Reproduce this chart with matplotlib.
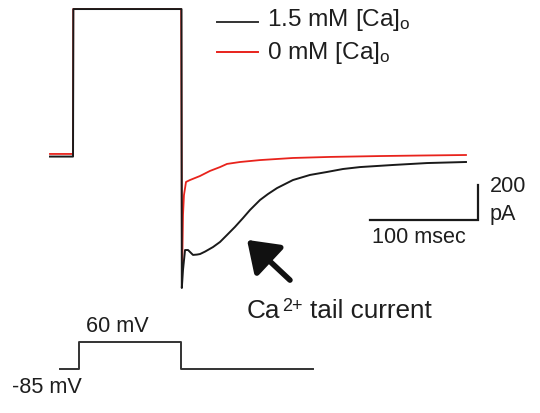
import matplotlib
matplotlib.use("Agg")
import matplotlib.pyplot as plt

plt.rcParams["font.family"] = ["Liberation Sans", "DejaVu Sans"]
plt.rcParams["mathtext.fontset"] = "custom"
plt.rcParams["mathtext.rm"] = "Liberation Sans"
plt.rcParams["mathtext.it"] = "Liberation Sans"

W, H = 540, 413

# ── Current traces (time in ms, current in pA) ──────────────────
t_ca = [0, 21.4, 21.7, 122.2, 122.5, 123.6, 125.5, 128.3, 130.1, 132.9, 136.6,
        139.4, 144.1, 151.5, 158.0, 164.5, 171.9, 179.4, 185.9, 195.2, 202.6,
        211.0, 218.4, 225.8, 241.6, 257.4, 272.3, 288.1, 318.8, 350.4, 386.6]
i_ca = [-9, -9, 834, 834, -760, -657, -543, -543, -554, -571, -569,
        -566, -552, -526, -497, -457, -411, -360, -314, -257, -223,
        -189, -166, -143, -114, -97, -80, -69, -57, -46, -40]

t_0ca = [0, 21.4, 21.6, 121.9, 122.7, 123.6, 124.5, 126.4, 130.1, 139.4, 148.7,
         158.0, 164.5, 176.6, 195.2, 225.8, 260.2, 306.7, 343.9, 386.6]
i_0ca = [6, 6, 834, 834, -697, -343, -229, -154, -143, -120, -91,
         -69, -51, -40, -29, -17, -11, -6, -3, 0]

# ── Voltage protocol (ms, mV) ───────────────────────────────────
t_v = [9.3, 27.0, 27.0, 121.7, 121.7, 244.4]
v_v = [-85, -85, 60, 60, -85, -85]

# pixel geometry
X0, PX_MS = 50, 1.076          # t = 0 at x=50 px
Y0, PX_PA = 155, 0.175         # 0 pA at y=155 px
YV, PX_MV = 369, 0.188         # -85 mV at y=369 px

def fx(x):
    return x / W

def fy(y):
    return 1 - y / H

fig = plt.figure(figsize=(W / 100, H / 100), dpi=100)
fig.patch.set_facecolor("white")

ax = fig.add_axes([0, 0, 1, 1])
ax.set_xlim(-X0 / PX_MS, (W - X0) / PX_MS)
ax.set_ylim(-(H - Y0) / PX_PA, Y0 / PX_PA)
ax.axis("off")

axv = fig.add_axes([0, 0, 1, 1], sharex=ax)
axv.set_ylim(-85 - (H - YV) / PX_MV, -85 + YV / PX_MV)
axv.axis("off")

ax.plot(t_0ca, i_0ca, color="#e8231c", lw=1.3, zorder=2)
ax.plot(t_ca, i_ca, color="#1a1a1a", lw=1.4, zorder=3)
axv.plot(t_v, v_v, color="#333333", lw=1.4)

# scale bar: 100 ms x 200 pA
sx1 = (478 - X0) / PX_MS
sy0 = (Y0 - 220) / PX_PA
ax.plot([sx1 - 100, sx1, sx1], [sy0, sy0, sy0 + 200], color="#1a1a1a",
        lw=1.6, solid_joinstyle="miter")

TXT = "#1e1e1e"
# legend
fig.add_artist(plt.Line2D([fx(217), fx(258)], [fy(22), fy(22)], color="#333333", lw=1.4))
fig.add_artist(plt.Line2D([fx(217), fx(258)], [fy(52), fy(52)], color="#e8231c", lw=1.4))
fig.text(fx(267), fy(26), r"1.5 mM [Ca]$_\mathregular{o}$", fontsize=17.6,
         color=TXT, va="baseline")
fig.text(fx(267), fy(59), r"0 mM [Ca]$_\mathregular{o}$", fontsize=17.6,
         color=TXT, va="baseline")

# scale bar labels
fig.text(fx(372), fy(243), "100 msec", fontsize=15.6, color=TXT, va="baseline")
fig.text(fx(490), fy(192), "200", fontsize=15.6, color=TXT, va="baseline")
fig.text(fx(490), fy(220), "pA", fontsize=15.6, color=TXT, va="baseline")

# arrow + label
fig.add_artist(matplotlib.patches.FancyArrowPatch(
    (fx(292), fy(282)), (fx(245), fy(238)), transform=fig.transFigure,
    arrowstyle="-|>,head_length=0.6,head_width=0.42", mutation_scale=30,
    lw=4, color="#111111"))
fig.text(fx(247), fy(318), "Ca", fontsize=18.8, color=TXT, va="baseline")
fig.text(fx(282), fy(311), "2+", fontsize=13, color=TXT, va="baseline")
fig.text(fx(310), fy(318), "tail current", fontsize=18.8, color=TXT, va="baseline")

# voltage labels
fig.text(fx(86), fy(332), "60 mV", fontsize=15.6, color=TXT, va="baseline")
fig.text(fx(12), fy(393), "-85 mV", fontsize=15.6, color=TXT, va="baseline")

fig.savefig("out.png", dpi=100, facecolor="white")
